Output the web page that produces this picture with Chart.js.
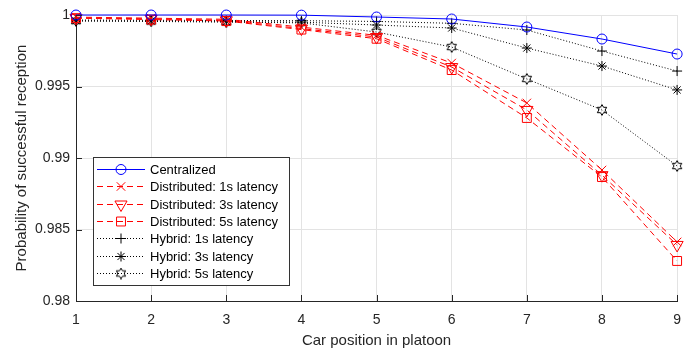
<!DOCTYPE html>
<html>
<head>
<meta charset="utf-8">
<script src="https://cdn.jsdelivr.net/npm/chart.js@4/dist/chart.umd.min.js"></script>
<style>
  html, body { margin: 0; padding: 0; background: #fff; }
  #wrap { width: 692px; height: 354px; }
</style>
</head>
<body>
<div id="wrap"><canvas id="c" width="692" height="354"></canvas></div>
<script>
// data
const positions = [1, 2, 3, 4, 5, 6, 7, 8, 9];
const centralized = [1, 1, 1, 0.99999, 0.99986, 0.99972, 0.99916, 0.99832, 0.99727];
const dist1s = [0.99985, 0.99978, 0.9997, 0.99915, 0.99858, 0.99664, 0.99385, 0.98916, 0.98413];
const dist3s = [0.9998, 0.99973, 0.99963, 0.99905, 0.99846, 0.99636, 0.99336, 0.9888, 0.98392];
const dist5s = [0.99978, 0.99968, 0.99958, 0.99898, 0.99834, 0.99615, 0.9928, 0.98867, 0.9828];
const hybrid1s = [0.99965, 0.99963, 0.99962, 0.9996, 0.99955, 0.99942, 0.99895, 0.99748, 0.99608];
const hybrid3s = [0.9996, 0.99958, 0.99955, 0.9995, 0.9993, 0.99909, 0.99769, 0.99643, 0.99476];
const hybrid5s = [0.99958, 0.99955, 0.9995, 0.99945, 0.99881, 0.99776, 0.99553, 0.99336, 0.98944];
const yTicks = [0.98, 0.985, 0.99, 0.995, 1];

const FONT = "'Liberation Sans', Arial, Helvetica, sans-serif";

// hexagram marker (matlab style)
function hexagram(size) {
  const cv = document.createElement("canvas");
  cv.width = size; cv.height = size;
  const g = cv.getContext("2d");
  const cx = size / 2, cy = size / 2, ro = size / 2 - 0.6, ri = ro * 0.577;
  g.beginPath();
  for (let i = 0; i < 12; i++) {
    const r = i % 2 === 0 ? ro : ri;
    const a = -Math.PI / 2 + i * Math.PI / 6;
    const px = cx + r * Math.cos(a), py = cy + r * Math.sin(a);
    if (i === 0) g.moveTo(px, py); else g.lineTo(px, py);
  }
  g.closePath();
  g.strokeStyle = "#000";
  g.lineWidth = 1;
  g.stroke();
  return cv;
}
const hexImg = hexagram(12);

function pts(arr) {
  return arr.map((v, i) => ({ x: positions[i], y: v }));
}

const series = [
  { label: "Centralized", data: centralized, color: "#0000ff", dash: [], style: "circle", r: 5, rot: 0 },
  { label: "Distributed: 1s latency", data: dist1s, color: "#ff0000", dash: [6, 4], style: "crossRot", r: 6, rot: 0 },
  { label: "Distributed: 3s latency", data: dist3s, color: "#ff0000", dash: [6, 4], style: "triangle", r: 7, rot: 180 },
  { label: "Distributed: 5s latency", data: dist5s, color: "#ff0000", dash: [6, 4], style: "rect", r: 6.3, rot: 0 },
  { label: "Hybrid: 1s latency", data: hybrid1s, color: "#000000", dash: [1, 2], style: "cross", r: 5, rot: 0 },
  { label: "Hybrid: 3s latency", data: hybrid3s, color: "#000000", dash: [1, 2], style: "star", r: 5, rot: 0 },
  { label: "Hybrid: 5s latency", data: hybrid5s, color: "#000000", dash: [1, 2], style: hexImg, r: 6, rot: 0 },
];

const datasets = series.map(s => ({
  label: s.label,
  data: pts(s.data),
  borderColor: s.color,
  borderWidth: 1,
  borderDash: s.dash,
  backgroundColor: "rgba(0,0,0,0)",
  pointStyle: s.style,
  pointRadius: s.r,
  pointRotation: s.rot,
  pointBorderColor: s.color,
  pointBackgroundColor: "rgba(0,0,0,0)",
  pointBorderWidth: 1,
  tension: 0,
  clip: false,
}));

// inward ticks + legend box like matlab
const matlabBits = {
  id: "matlabBits",
  afterDraw(chart) {
    const ctx = chart.ctx;
    const xs = chart.scales.x, ys = chart.scales.y;
    const a = chart.chartArea;
    ctx.save();
    ctx.strokeStyle = "#262626";
    ctx.lineWidth = 1;
    ctx.setLineDash([]);
    positions.forEach(p => {
      const x = Math.round(xs.getPixelForValue(p)) + 0.5;
      ctx.beginPath(); ctx.moveTo(x, a.bottom); ctx.lineTo(x, a.bottom - 6); ctx.stroke();
    });
    yTicks.forEach(v => {
      const y = Math.round(ys.getPixelForValue(v)) + 0.5;
      ctx.beginPath(); ctx.moveTo(a.left, y); ctx.lineTo(a.left + 6, y); ctx.stroke();
    });

    // legend
    const bx = 93, by = 157, bw = 196, bh = 128;
    ctx.fillStyle = "#fff";
    ctx.fillRect(bx, by, bw, bh);
    ctx.strokeStyle = "#333";
    ctx.strokeRect(bx + 0.5, by + 0.5, bw, bh);
    ctx.font = "13px " + FONT;
    ctx.textBaseline = "middle";
    series.forEach((s, i) => {
      const y = Math.round(169 + i * 17.3) + 0.5;
      ctx.strokeStyle = s.color;
      ctx.setLineDash(s.dash);
      ctx.beginPath(); ctx.moveTo(97, y); ctx.lineTo(145, y); ctx.stroke();
      ctx.setLineDash([]);
      ctx.fillStyle = "rgba(0,0,0,0)";
      Chart.helpers.drawPoint(ctx, {
        pointStyle: s.style, radius: s.r, rotation: s.rot, borderWidth: 1
      }, 121, y);
      ctx.fillStyle = "#000";
      ctx.fillText(s.label, 150, y + 1);
    });
    ctx.restore();
  }
};

new Chart(document.getElementById("c"), {
  type: "line",
  data: { datasets },
  options: {
    responsive: false,
    animation: false,
    layout: { padding: { top: 15, right: 4, left: 0, bottom: 0 } },
    plugins: { legend: { display: false }, tooltip: { enabled: false } },
    scales: {
      x: {
        type: "linear",
        min: 1, max: 9,
        ticks: { stepSize: 1, color: "#262626", font: { family: FONT, size: 14 }, padding: 11, maxRotation: 0 },
        grid: { color: "#e3e3e3", drawTicks: false },
        border: { color: "#262626" },
        title: { display: true, text: "Car position in platoon", color: "#262626", font: { family: FONT, size: 15 }, padding: { top: 4, bottom: 4 } },
        afterFit: s => { s.height = 53; },
      },
      y: {
        min: 0.98, max: 1,
        afterBuildTicks: s => { s.ticks = yTicks.map(v => ({ value: v })); },
        ticks: {
          color: "#262626", font: { family: FONT, size: 14 }, padding: 6,
          callback: v => String(Number(v.toFixed(3))),
        },
        grid: { color: "#e3e3e3", drawTicks: false },
        border: { color: "#262626" },
        title: { display: true, text: "Probability of successful reception", color: "#262626", font: { family: FONT, size: 15 }, padding: { top: 13, bottom: 4 } },
        afterFit: s => { s.width = 76; },
      },
    },
  },
  plugins: [matlabBits],
});
</script>
</body>
</html>
